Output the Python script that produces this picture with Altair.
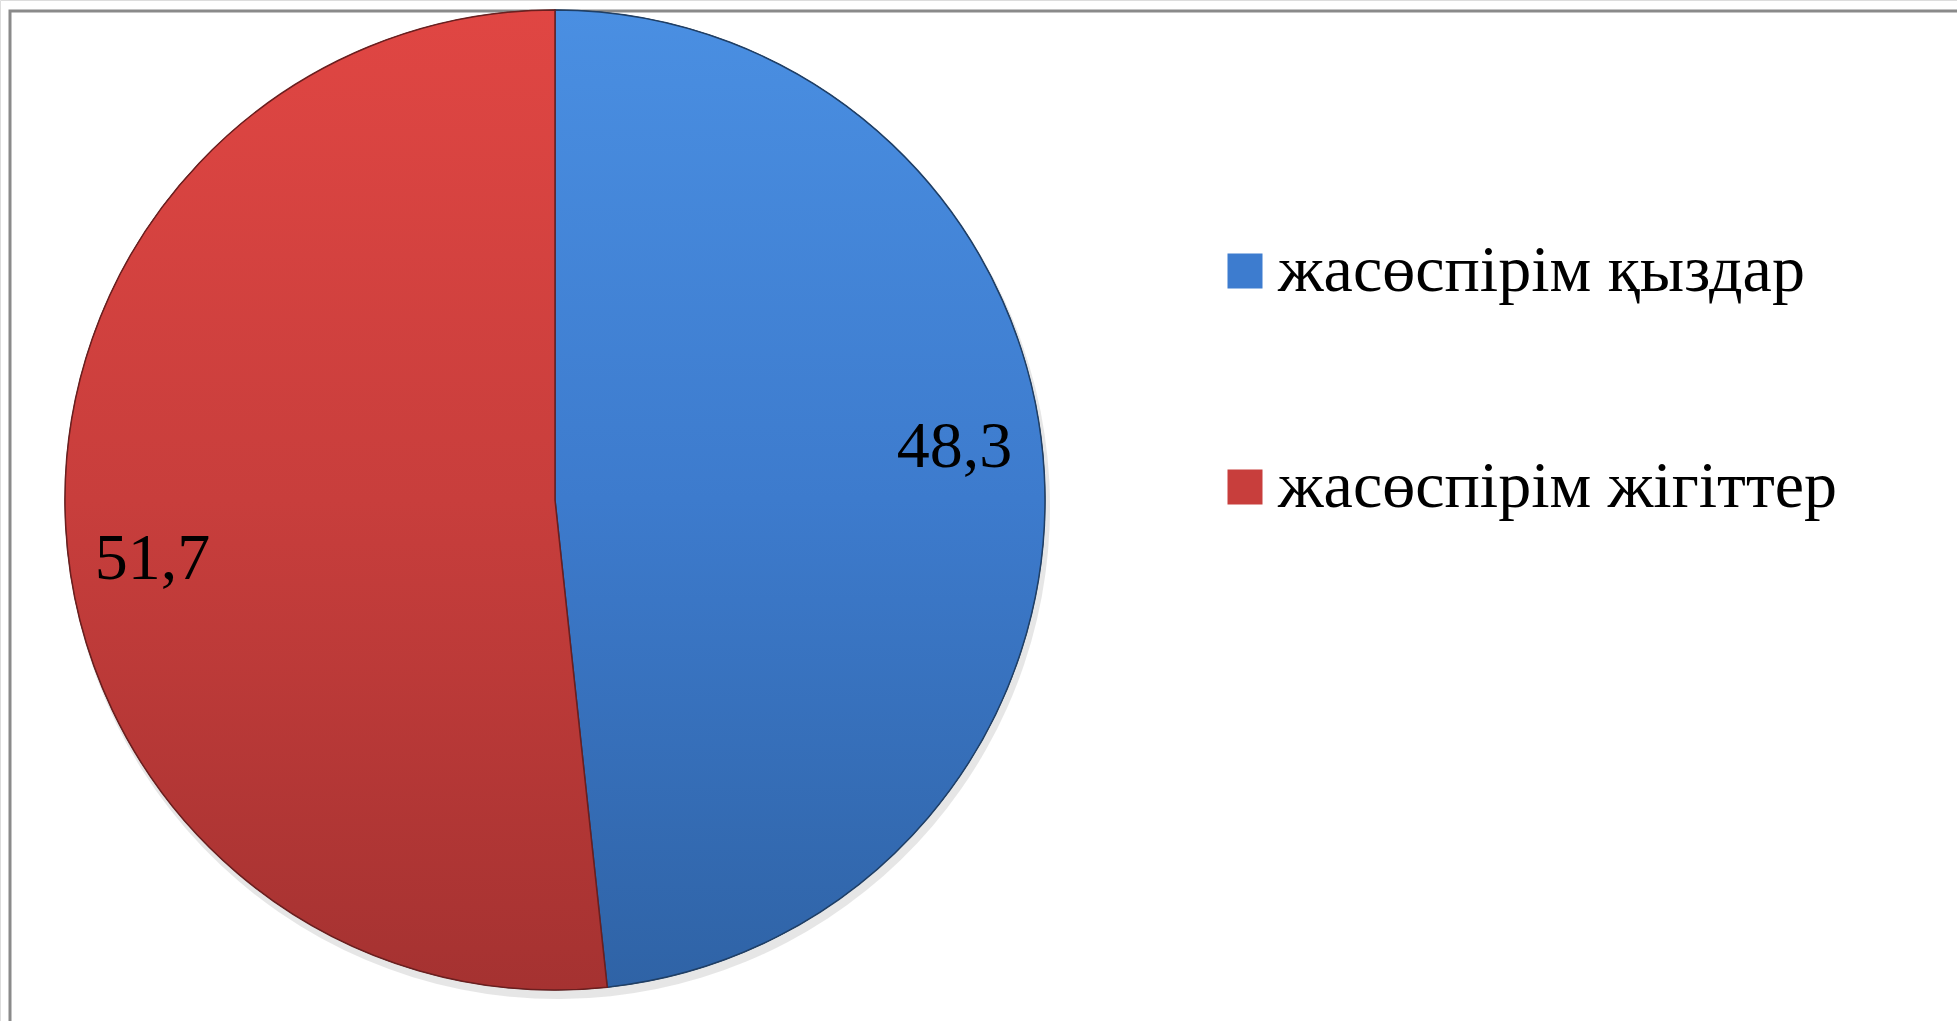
import altair as alt
import pandas as pd

categories = ["жасөспірім қыздар", "жасөспірім жігіттер"]
values = [48.3, 51.7]
order = [1, 2]
colors = ["#3D7CCF", "#C83E3C"]

df = pd.DataFrame({"cat": categories, "value": values, "order": order})

CX, CY, R = 555, 500, 490
FONT = "Liberation Serif"

base = alt.Chart(df).transform_stack(
    stack="value", groupby=[], as_=["v0", "v1"], sort=[alt.SortField("order")]
).transform_calculate(
    mid="(datum.v0 + datum.v1) / 2",
    label="replace(format(datum.value, '.1f'), '.', ',')",
)

theta = alt.Theta("v0:Q", scale=alt.Scale(domain=[0, 100]), stack=None)
theta2 = alt.Theta2("v1:Q")

shadow = base.mark_arc(color="#9a9a9a", opacity=0.25).encode(
    theta=theta, theta2=theta2,
    x=alt.value(CX + 3), y=alt.value(CY + 7), radius=alt.value(R + 2),
)

solid = base.mark_arc(stroke="#2a2a2a", strokeWidth=1).encode(
    theta=theta, theta2=theta2,
    x=alt.value(CX), y=alt.value(CY), radius=alt.value(R),
    color=alt.Color(
        "cat:N",
        scale=alt.Scale(domain=categories, range=colors),
        sort=categories,
        legend=alt.Legend(
            title=None, orient="none", legendX=1212, legendY=238, padding=0,
            symbolType="square", symbolSize=1225, symbolStrokeWidth=0,
            labelFont=FONT, labelFontSize=66, labelColor="black",
            labelLimit=1200, labelOffset=0, rowPadding=150,
        ),
    ),
)

def grad(top, mid, bottom):
    return alt.LinearGradient(
        gradient="linear", x1=0, x2=0, y1=0, y2=1,
        stops=[alt.GradientStop(color=top, offset=0),
               alt.GradientStop(color=mid, offset=0.5),
               alt.GradientStop(color=bottom, offset=1)],
    )

blue = base.transform_filter(alt.datum.order == 1).mark_arc(
    fill=grad("#4A8FE2", "#3D7BCD", "#2F63A6"), stroke="#1f3f66", strokeWidth=1.5
).encode(theta=theta, theta2=theta2, x=alt.value(CX), y=alt.value(CY), radius=alt.value(R))

red = base.transform_filter(alt.datum.order == 2).mark_arc(
    fill=grad("#E04643", "#C83E3C", "#A53231"), stroke="#6b1f1f", strokeWidth=1.5
).encode(theta=theta, theta2=theta2, x=alt.value(CX), y=alt.value(CY), radius=alt.value(R))

tmid = alt.Theta("mid:Q", scale=alt.Scale(domain=[0, 100]), stack=None)
lab_blue = base.transform_filter(alt.datum.order == 1).mark_text(
    font=FONT, fontSize=66, color="black", dy=-32
).encode(theta=tmid, x=alt.value(CX), y=alt.value(CY), radius=alt.value(400), text="label:N")
lab_red = base.transform_filter(alt.datum.order == 2).mark_text(
    font=FONT, fontSize=66, color="black", dy=37
).encode(theta=tmid, x=alt.value(CX), y=alt.value(CY), radius=alt.value(403), text="label:N")

frame = alt.Chart(pd.DataFrame({"a": [0]})).mark_rect(
    fillOpacity=0, stroke="#8a8a8a", strokeWidth=3
).encode(x=alt.value(10), x2=alt.value(2000), y=alt.value(11), y2=alt.value(1060))

chart = alt.layer(frame, shadow, solid, blue, red, lab_blue, lab_red).properties(
    width=1957, height=1021, autosize=alt.AutoSizeParams(type="none"), padding=0,
).configure_view(stroke=None).configure(background="white")

chart.save("out.html", embed_options={"renderer": "svg", "actions": False})
